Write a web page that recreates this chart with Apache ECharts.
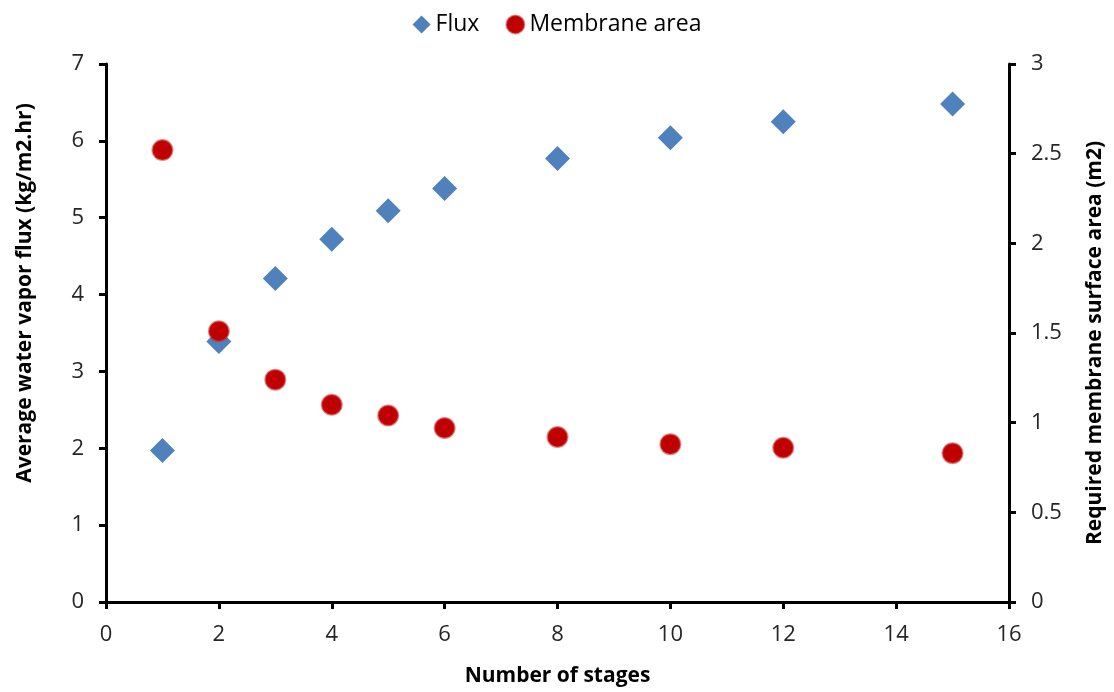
<!DOCTYPE html>
<html>
<head>
<meta charset="utf-8">
<script src="https://cdn.jsdelivr.net/npm/echarts@6/dist/echarts.min.js"></script>
<style>
html, body { margin: 0; padding: 0; background: #fff; }
#main { width: 1114px; height: 692px; }
</style>
</head>
<body>
<div id="main"></div>
<script>
// stages on x
var stages = [1, 2, 3, 4, 5, 6, 8, 10, 12, 15];
// average water vapor flux (kg/m2.hr), left axis
var flux = [1.97, 3.39, 4.21, 4.72, 5.09, 5.38, 5.77, 6.04, 6.25, 6.48];
// required membrane area (m2), right axis
var area = [2.52, 1.51, 1.24, 1.10, 1.04, 0.97, 0.92, 0.88, 0.86, 0.83];

function pairs(xs, ys) {
    var out = [];
    for (var i = 0; i < xs.length; i++) out.push([xs[i], ys[i]]);
    return out;
}

var font = 'Open Sans';
var myChart = echarts.init(document.getElementById('main'));

var axisLine = { show: true, lineStyle: { color: '#000', width: 3 } };
var axisTick = { show: true, inside: false, length: 7, lineStyle: { color: '#000', width: 3 } };
var tickLabel = { color: '#262626', fontSize: 22, fontFamily: font };
var nameStyle = { color: '#000', fontSize: 21, fontWeight: 'bold', fontFamily: font };

myChart.setOption({
    animation: false,
    legend: {
        top: 8,
        left: 'center',
        itemGap: 26,
        itemWidth: 18,
        itemHeight: 18,
        textStyle: { color: '#000', fontSize: 23, fontFamily: font },
        data: ['Flux', 'Membrane area']
    },
    grid: { left: 106, right: 103, top: 64, bottom: 88 },
    xAxis: {
        type: 'value',
        min: 0, max: 16, interval: 2,
        name: 'Number of stages',
        nameLocation: 'middle',
        nameGap: 64,
        nameTextStyle: nameStyle,
        axisLine: axisLine,
        axisTick: axisTick,
        axisLabel: Object.assign({ margin: 22 }, tickLabel),
        splitLine: { show: false }
    },
    yAxis: [{
        type: 'value',
        min: 0, max: 7, interval: 1,
        name: 'Average water vapor flux (kg/m2.hr)',
        nameLocation: 'middle',
        nameGap: 70,
        nameRotate: 90,
        nameTextStyle: Object.assign({ padding: [0, 0, 0, 80] }, nameStyle),
        axisLine: axisLine,
        axisTick: axisTick,
        axisLabel: Object.assign({ margin: 22 }, tickLabel),
        splitLine: { show: false }
    }, {
        type: 'value',
        position: 'right',
        min: 0, max: 3, interval: 0.5,
        name: 'Required membrane surface area (m2)',
        nameLocation: 'middle',
        nameGap: 76,
        nameRotate: 90,
        nameTextStyle: Object.assign({ padding: [0, 20, 0, 0] }, nameStyle),
        axisLine: axisLine,
        axisTick: axisTick,
        axisLabel: Object.assign({ margin: 22 }, tickLabel),
        splitLine: { show: false }
    }],
    series: [{
        name: 'Flux',
        type: 'scatter',
        yAxisIndex: 0,
        symbol: 'diamond',
        symbolSize: 25,
        itemStyle: { color: '#4F81BD', opacity: 1 },
        data: pairs(stages, flux)
    }, {
        name: 'Membrane area',
        type: 'scatter',
        yAxisIndex: 1,
        symbol: 'circle',
        symbolSize: 20,
        itemStyle: { color: '#C00000', borderColor: 'rgba(200,40,40,0.55)', borderWidth: 2, opacity: 1 },
        data: pairs(stages, area)
    }]
});
</script>
</body>
</html>
